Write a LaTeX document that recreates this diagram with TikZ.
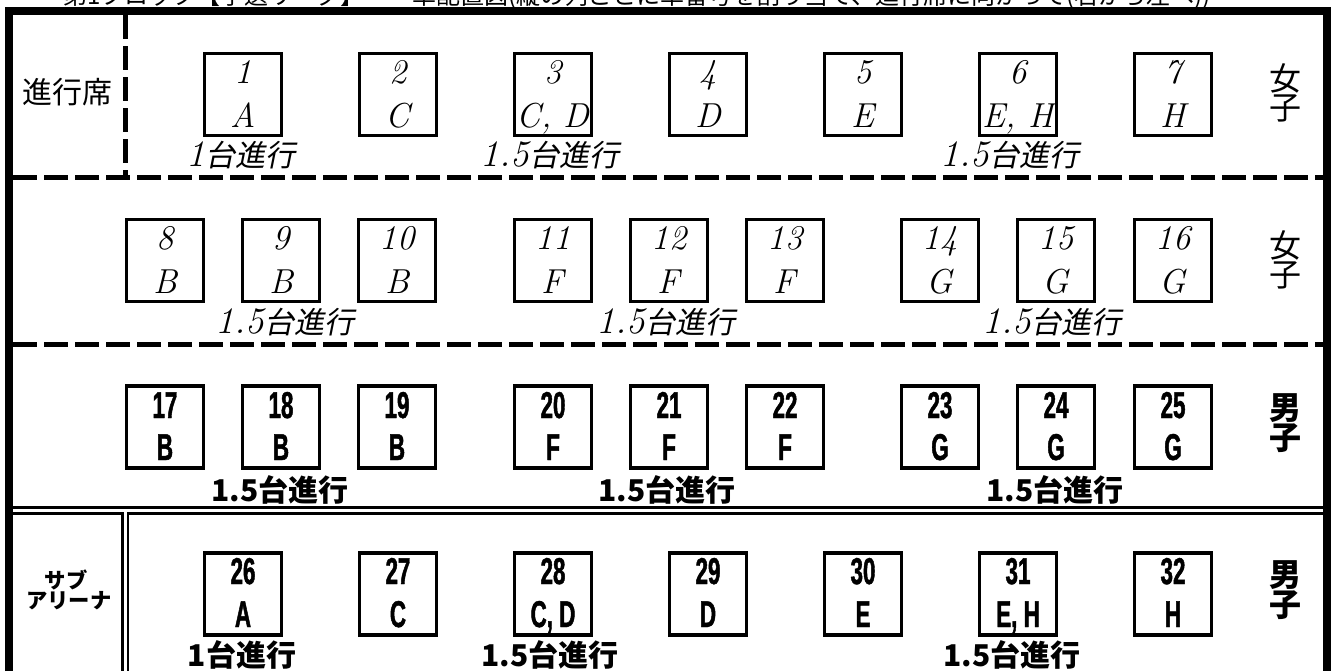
\documentclass[tikz,border=0pt]{standalone}
\usepackage{fontspec}
\newfontfamily\jp{Noto Sans CJK JP}
\newfontfamily\jpsl[FakeSlant=0.2]{Noto Sans CJK JP}
\newfontfamily\cond[FakeStretch=0.6, FakeBold=1.2]{Liberation Sans}
\tikzset{
  frame/.style={line width=6pt},
  split/.style={line width=3.75pt, dash pattern=on 18pt off 5.25pt},
  twin/.style={line width=2pt},
  cell/.style={draw, line width=2.4pt, minimum width=57.75pt, minimum height=61.5pt, inner sep=0pt},
  thin/.style={font=\fontsize{26}{26}\selectfont\itshape, anchor=base, inner sep=0pt},
  heavy/.style={font=\fontsize{28}{28}\selectfont\cond\bfseries, anchor=base, inner sep=0pt},
  note/.style={font=\fontsize{22.5}{22.5}\selectfont, inner sep=0pt},
  notebf/.style={font=\fontsize{22.5}{22.5}\selectfont\jp\bfseries, inner sep=0pt},
  side/.style={font=\fontsize{24}{21.75}\selectfont\jp, align=center, inner sep=0pt},
  sidebf/.style={font=\fontsize{24}{22.5}\selectfont\jp\bfseries, align=center, inner sep=0pt},
  arena/.style={font=\fontsize{16}{16}\selectfont\jp\bfseries, inner sep=0pt},
}
\newcommand\slnum[1]{{\fontsize{28}{28}\selectfont\itshape #1}}
\begin{document}
\begin{tikzpicture}[x=0.75pt, y=-0.75pt]
  \useasboundingbox (0,0) rectangle (1333,671);
  \clip (0,0) rectangle (1333,671);

  % title (cut off at the top)
  \node[font=\fontsize{18}{18}\selectfont\jp, anchor=base west, inner sep=0pt] (title) at (63,4)
    {第1ブロック【予選リーグ】\quad\quad 卓配置図(縦の列ごとに卓番号を割り当て、進行席に向かって(右から左へ))};

  % frame and dividers
  \draw[frame] (9,671) -- (9,11) -- (1326.5,11) -- (1326.5,671);
  \draw[split] (125.5,15) -- (125.5,177.5);
  \draw[split] (13,177.5) -- (1323,177.5);
  \draw[split] (13,344.5) -- (1323,344.5);
  \draw[twin] (13,507.3) -- (1323,507.3);
  \draw[twin] (13,513.7) -- (122.8,513.7) -- (122.8,671);
  \draw[twin] (1323,513.7) -- (128,513.7) -- (128,671);

  \node[font=\fontsize{22.5}{22.5}\selectfont\jp, inner sep=0pt] (desk) at (67,92) {進行席};
  \node[arena] (sub1) at (66,580) {サブ};
  \node[arena] (sub2) at (69,601) {アリーナ};

  % rows 1 and 4
  \foreach \i/\x/\a in {1/243/A, 2/398/C, 3/553/{C, D}, 4/708/D, 5/863/E, 6/1018/{E, H}, 7/1173/H} {
    \node[cell] (c\i) at (\x,94.5) {};
    \node[thin] (n\i) at (\x,83.5) {\i};
    \node[thin] (l\i) at (\x,127) {\a};
    \pgfmathtruncatemacro\j{\i+25}
    \node[cell] (c\j) at (\x,594) {};
    \node[heavy] (n\j) at (\x,584) {\j};
    \node[heavy] (l\j) at (\x,627) {\a};
  }

  % rows 2 and 3
  \foreach \i/\x/\a in {8/165/B, 9/281/B, 10/397/B, 11/553/F, 12/669/F, 13/785/F, 14/940/G, 15/1056/G, 16/1173/G} {
    \node[cell] (c\i) at (\x,260.5) {};
    \node[thin] (n\i) at (\x,249.5) {\i};
    \node[thin] (l\i) at (\x,293) {\a};
    \pgfmathtruncatemacro\j{\i+9}
    \node[cell] (c\j) at (\x,427) {};
    \node[heavy] (n\j) at (\x,418) {\j};
    \node[heavy] (l\j) at (\x,460) {\a};
  }

  % how many tables run the games
  \foreach \k/\x/\t in {1/241/1, 2/550/1.5, 3/1010/1.5}
    \node[note] (p\k) at (\x,155) {\slnum{\t}{\jpsl 台進行}};
  \foreach \k/\x in {4/285, 5/666, 6/1052}
    \node[note] (p\k) at (\x,322) {\slnum{1.5}{\jpsl 台進行}};
  \foreach \k/\x in {7/280, 8/667, 9/1055}
    \node[notebf] (p\k) at (\x,490) {1.5台進行};
  \foreach \k/\x/\t in {10/242/1, 11/550/1.5, 12/1012/1.5}
    \node[notebf] (p\k) at (\x,655) {\t{}台進行};

  \node[side] (s1) at (1285,93) {女\\子};
  \node[side] (s2) at (1285,260) {女\\子};
  \node[sidebf] (s3) at (1285,423) {男\\子};
  \node[sidebf] (s4) at (1285,590) {男\\子};
\end{tikzpicture}
\end{document}
